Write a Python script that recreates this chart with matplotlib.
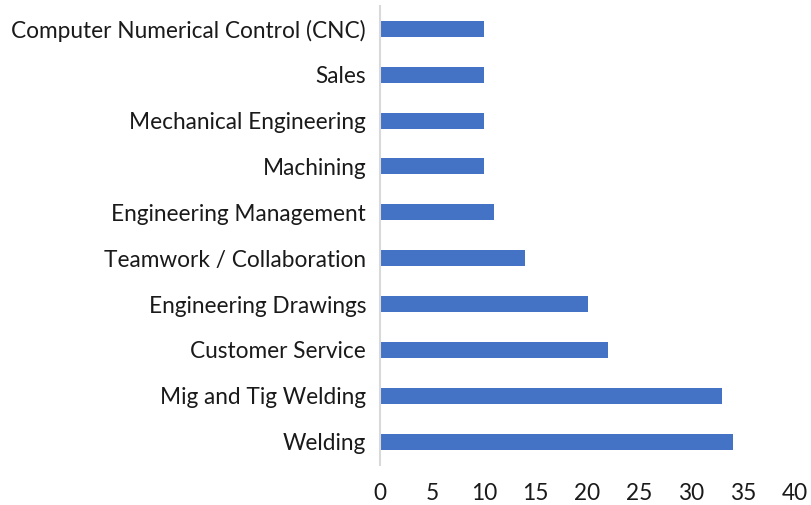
import matplotlib
matplotlib.use("Agg")
import matplotlib.pyplot as plt

categories = ["Welding", "Mig and Tig Welding", "Customer Service", "Engineering Drawings",
              "Teamwork / Collaboration", "Engineering Management", "Machining",
              "Mechanical Engineering", "Sales", "Computer Numerical Control (CNC)"]
values = [34, 33, 22, 20, 14, 11, 10, 10, 10, 10]
xticks = [0, 5, 10, 15, 20, 25, 30, 35, 40]

W, H = 811, 505
fig = plt.figure(figsize=(W / 100, H / 100), dpi=100)
left, right = 380 / W, 795 / W
top, bottom = 1 - 6 / H, 1 - 464.5 / H
ax = fig.add_axes([left, bottom, right - left, top - bottom])

ax.barh(range(len(categories)), values, height=0.35, color="#4472C4", zorder=2)
ax.set_xlim(0, 40)
ax.set_ylim(-0.5, len(categories) - 0.5)
ax.set_yticks(range(len(categories)))
ax.set_xticks(xticks)

fs = 16.3
ax.set_yticklabels(categories, fontsize=fs, family="Lato", color="#1a1a1a")
ax.set_xticklabels([str(t) for t in xticks], fontsize=fs, family="Lato", color="#1a1a1a")

for s in ["top", "right", "bottom"]:
    ax.spines[s].set_visible(False)
ax.spines["left"].set_color("#D9D9D9")
ax.spines["left"].set_linewidth(1.5)
ax.tick_params(axis="y", length=0, pad=10)
ax.tick_params(axis="x", length=0, pad=13)

fig.savefig("out.png", dpi=100)
